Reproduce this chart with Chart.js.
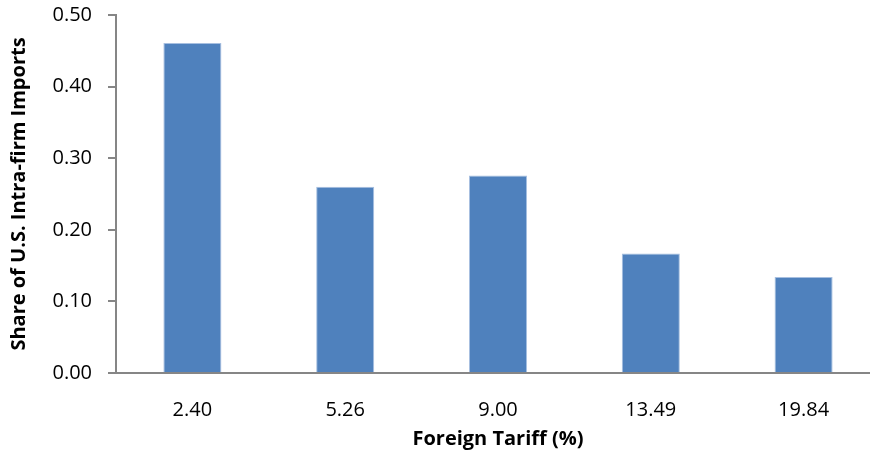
<!DOCTYPE html>
<html>
<head>
<meta charset="utf-8">
<script src="https://cdn.jsdelivr.net/npm/chart.js@4.4.1/dist/chart.umd.min.js"></script>
<style>
  html, body { margin: 0; padding: 0; background: #fff; overflow: hidden; }
</style>
</head>
<body>
<canvas id="chart" width="880" height="457"></canvas>
<script>
const tariffLabels = ['2.40', '5.26', '9.00', '13.49', '19.84'];
const intraFirmShare = [0.461, 0.260, 0.276, 0.167, 0.134];
const yTickValues = [0, 0.1, 0.2, 0.3, 0.4, 0.5];

const xTitle = 'Foreign Tariff (%)';
const yTitle = 'Share of U.S. Intra-firm Imports';

const axisGray = '#868686';
const font = '"Open Sans", "Liberation Sans", sans-serif';

const ctx = document.getElementById('chart').getContext('2d');

new Chart(ctx, {
  type: 'bar',
  data: {
    labels: tariffLabels,
    datasets: [{
      data: intraFirmShare,
      backgroundColor: '#4F81BD',
      borderColor: '#A7BFE0',
      borderWidth: 1,
      barPercentage: 0.38,
      categoryPercentage: 1
    }]
  },
  options: {
    responsive: false,
    animation: false,
    layout: { padding: { top: 15, right: 0, bottom: 0, left: 0 } },
    plugins: {
      legend: { display: false },
      tooltip: { enabled: false }
    },
    scales: {
      x: {
        grid: { display: false },
        border: { display: true, color: axisGray, width: 2 },
        ticks: {
          color: '#000',
          padding: 17,
          font: { family: font, size: 20 }
        },
        title: {
          display: true,
          text: xTitle,
          color: '#000',
          font: { family: font, size: 20, weight: 'bold' },
          padding: { top: 0, bottom: 6 }
        },
        afterFit: scale => {
          scale.height = 84;
          scale.paddingLeft = 0;
          scale.paddingRight = 0;
        }
      },
      y: {
        min: 0,
        max: 0.5,
        afterBuildTicks: scale => {
          scale.ticks = yTickValues.map(v => ({ value: v }));
        },
        grid: {
          drawOnChartArea: false,
          drawTicks: true,
          tickLength: 8,
          color: axisGray,
          lineWidth: 2
        },
        border: { display: true, color: axisGray, width: 2 },
        ticks: {
          color: '#000',
          padding: 16,
          font: { family: font, size: 20 },
          callback: v => Number(v).toFixed(2)
        },
        title: {
          display: true,
          text: yTitle,
          color: '#000',
          font: { family: font, size: 20, weight: 'bold' },
          padding: { top: 7, bottom: 0 }
        },
        afterFit: scale => {
          scale.width = 116;
          scale.paddingTop = 0;
          scale.paddingBottom = 0;
        }
      }
    }
  }
});
</script>
</body>
</html>
